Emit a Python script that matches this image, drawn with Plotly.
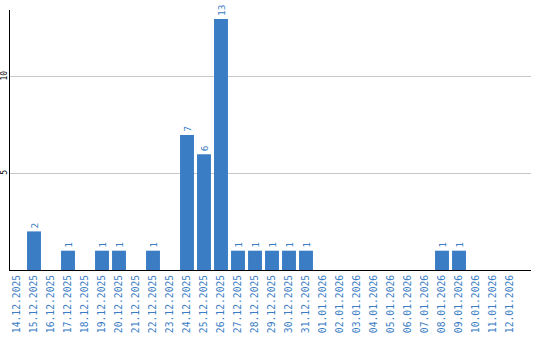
import plotly.graph_objects as go

dates = ["14.12.2025", "15.12.2025", "16.12.2025", "17.12.2025", "18.12.2025",
         "19.12.2025", "20.12.2025", "21.12.2025", "22.12.2025", "23.12.2025",
         "24.12.2025", "25.12.2025", "26.12.2025", "27.12.2025", "28.12.2025",
         "29.12.2025", "30.12.2025", "31.12.2025", "01.01.2026", "02.01.2026",
         "03.01.2026", "04.01.2026", "05.01.2026", "06.01.2026", "07.01.2026",
         "08.01.2026", "09.01.2026", "10.01.2026", "11.01.2026", "12.01.2026"]
counts = [0, 2, 0, 1, 0, 1, 1, 0, 1, 0,
          7, 6, 13, 1, 1, 1, 1, 1, 0, 0,
          0, 0, 0, 0, 0, 1, 1, 0, 0, 0]
y_ticks = [5, 10]

BLUE = "#3b7dc4"
FONT = "DejaVu Sans Mono"

fig = go.Figure(go.Bar(
    x=dates, y=counts,
    text=[str(v) if v else "" for v in counts],
    textposition="outside", textangle=-90,
    textfont=dict(family=FONT, size=9.5, color=BLUE),
    marker=dict(color=BLUE, line=dict(width=0)),
    cliponaxis=False,
))
fig.update_layout(
    width=540, height=340,
    margin=dict(l=10, r=9, t=10, b=70),
    paper_bgcolor="white", plot_bgcolor="white",
    bargap=0.18, showlegend=False,
    font=dict(family=FONT),
)
fig.update_xaxes(
    type="category", range=[-0.4118, 30.235], automargin=False,
    tickangle=-90, tickfont=dict(family=FONT, size=9.7, color=BLUE),
    showline=True, linecolor="black", linewidth=1,
    showgrid=False, ticks="",
)
fig.update_yaxes(
    range=[0, 13.47], tickvals=y_ticks, ticktext=[str(t) for t in y_ticks],
    automargin=False, ticklabelstandoff=-1,
    tickangle=-90, tickfont=dict(family=FONT, size=8, color="black"),
    showline=True, linecolor="black", linewidth=1,
    showgrid=True, gridcolor="#c8c8c8", gridwidth=1,
    zeroline=False, ticks="",
)
fig.write_html("out.html")
